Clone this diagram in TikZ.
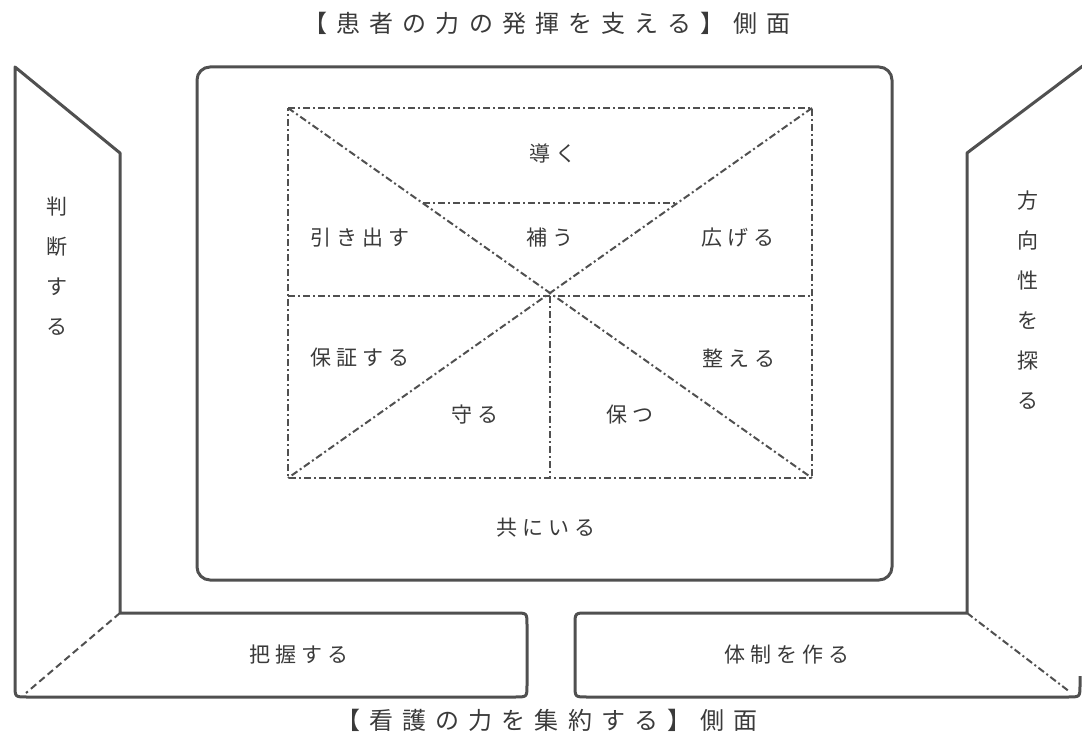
\documentclass[tikz,border=0pt]{standalone}
\usepackage{fontspec}
\newfontfamily\jp{Noto Sans CJK JP}
\newfontfamily\jpsp[LetterSpace=24]{Noto Sans CJK JP}
\newfontfamily\jptitle[LetterSpace=38]{Noto Sans CJK JP}
\definecolor{ink}{HTML}{505050}
\definecolor{txt}{HTML}{3A3A3A}
\tikzset{
  frame/.style={draw=ink, line width=3pt, line join=round},
  dd/.style={draw=ink, line width=2pt, dash pattern=on 7pt off 3pt on 2pt off 3pt},
  lbl/.style={text=txt, font=\jpsp\fontsize{21}{21}\selectfont, inner sep=0pt},
  ttl/.style={text=txt, font=\jptitle\fontsize{24}{24}\selectfont, inner sep=0pt},
  vert/.style={text=txt, font=\jp\fontsize{21}{40}\selectfont, align=center, inner sep=0pt}
}
\begin{document}
\begin{tikzpicture}[x=1pt,y=-1pt]
\useasboundingbox (0,0) rectangle (1082,754);
% titles
\node[ttl] (top) at (547,23) {【患者の力の発揮を支える】側面};
\node[ttl] (bot) at (547,720) {【看護の力を集約する】側面};
% left panel
\draw[frame] (15,67) -- (120,153) -- (120,613) -- (515,613) .. controls (527,613) .. (527,625)
  -- (527,685) .. controls (527,697) .. (515,697) -- (27,697) .. controls (15,697) .. (15,685) -- cycle;
\coordinate (lc) at (120,613);
\coordinate (lb) at (26,693);
\draw[dd, dash pattern=on 7pt off 4pt] (lc) -- (lb);
% right panel
\draw[frame] (1084,65) -- (967,153) -- (967,613) -- (587,613) .. controls (575,613) .. (575,625)
  -- (575,685) .. controls (575,697) .. (587,697) -- (1068,697) .. controls (1080,697) .. (1080,685) -- (1080,676);
\coordinate (rc) at (967,613);
\coordinate (rb) at (1070,692);
\draw[dd] (rc) -- (rb);
% inner frame
\draw[frame, rounded corners=13] (197,67) rectangle (892,580);
% dashed rect
\coordinate (A) at (288,108);
\coordinate (B) at (812,108);
\coordinate (C) at (812,478);
\coordinate (D) at (288,478);
\coordinate (ML) at (288,296);
\coordinate (MR) at (812,296);
\coordinate (MC) at (550,296);
\coordinate (MB) at (550,478);
\coordinate (UL) at (423,203);
\coordinate (UR) at (677,203);
\draw[dd] (A) -- (B) -- (C) -- (D) -- cycle;
\draw[dd] (A) -- (C);
\draw[dd] (B) -- (D);
\draw[dd] (ML) -- (MR);
\draw[dd] (UL) -- (UR);
\draw[dd] (MC) -- (MB);
% labels
\node[lbl] (n1) at (553,153) {導く};
\node[lbl] (n2) at (360,238) {引き出す};
\node[lbl] (n3) at (550,238) {補う};
\node[lbl] (n4) at (738,238) {広げる};
\node[lbl] (n5) at (360,358) {保証する};
\node[lbl] (n6) at (739,358) {整える};
\node[lbl] (n7) at (475,415) {守る};
\node[lbl] (n8) at (630,415) {保つ};
\node[lbl] (n9) at (546,528) {共にいる};
\node[lbl] (n10) at (299,655) {把握する};
\node[lbl] (n11) at (787,655) {体制を作る};
\node[vert, anchor=north] (v1) at (57,197) {判\\断\\す\\る};
\node[vert, anchor=north] (v2) at (1028,191) {方\\向\\性\\を\\探\\る};
\end{tikzpicture}
\end{document}
